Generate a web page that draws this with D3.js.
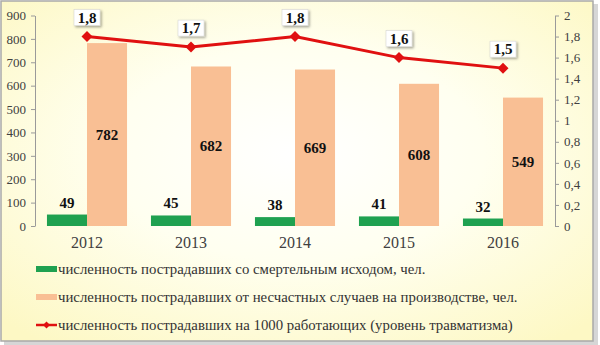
<!DOCTYPE html>
<html>
<head>
<meta charset="utf-8">
<script src="https://cdn.jsdelivr.net/npm/d3@7"></script>
<style>
  html, body { margin: 0; padding: 0; background: #ffffff; }
  svg { display: block; }
</style>
</head>
<body>
<svg id="chart" width="600" height="345"></svg>
<script>
// Injury statistics by year
const years = ["2012", "2013", "2014", "2015", "2016"];
const fatal = [49, 45, 38, 41, 32];
const injured = [782, 682, 669, 608, 549];
const ratePer1000 = [1.8, 1.7, 1.8, 1.6, 1.5];
const leftTicks = [0, 100, 200, 300, 400, 500, 600, 700, 800, 900];
const rightTicks = [0, 0.2, 0.4, 0.6, 0.8, 1, 1.2, 1.4, 1.6, 1.8, 2];
const legendLabels = [
  "численность пострадавших со смертельным исходом, чел.",
  "численность пострадавших от несчастных случаев на производстве, чел.",
  "численность пострадавших на 1000 работающих (уровень травматизма)"
];

const green = "#1fa150";
const orange = "#f9bf94";
const red = "#e01010";
const serif = "'Liberation Serif', 'Times New Roman', serif";

const svg = d3.select("#chart");
const defs = svg.append("defs");

// panel background: pale yellow with a lighter centre
const bg = defs.append("radialGradient").attr("id", "bg")
  .attr("cx", "50%").attr("cy", "45%").attr("r", "70%");
bg.append("stop").attr("offset", "0%").attr("stop-color", "#ffffff");
bg.append("stop").attr("offset", "45%").attr("stop-color", "#fffff0");
bg.append("stop").attr("offset", "100%").attr("stop-color", "#fdf8c4");

const shadow = defs.append("filter").attr("id", "boxShadow")
  .attr("x", "-30%").attr("y", "-30%").attr("width", "170%").attr("height", "170%");
shadow.append("feDropShadow").attr("dx", 1.5).attr("dy", 1.5)
  .attr("stdDeviation", 1.2).attr("flood-color", "#000").attr("flood-opacity", 0.35);

// frame shadow + frame
svg.append("rect").attr("x", 4).attr("y", 4).attr("width", 594).attr("height", 341)
  .attr("fill", "#d6d6d6");
svg.append("rect").attr("x", 1).attr("y", 1).attr("width", 592).attr("height", 340)
  .attr("fill", "url(#bg)").attr("stroke", "#a9a9a9").attr("stroke-width", 1.5);

const plotLeft = 35, plotRight = 555, plotTop = 15.5, plotBottom = 226;

const x = d3.scaleBand().domain(years).range([plotLeft, plotRight])
  .paddingInner(0.23).paddingOuter(0.115);
const x1 = d3.scaleBand().domain(["fatal", "injured"]).range([0, x.bandwidth()]);
const y = d3.scaleLinear().domain([0, 900]).range([plotBottom, plotTop]);
const y2 = d3.scaleLinear().domain([0, 2]).range([plotBottom, plotTop]);

const fmtComma = d => String(d).replace(".", ",");

// left axis
const axL = svg.append("g").attr("transform", `translate(${plotLeft},0)`)
  .call(d3.axisLeft(y).tickValues(leftTicks).tickSizeInner(4).tickSizeOuter(0).tickPadding(5));
// right axis
const axR = svg.append("g").attr("transform", `translate(${plotRight},0)`)
  .call(d3.axisRight(y2).tickValues(rightTicks).tickFormat(fmtComma)
    .tickSizeInner(4).tickSizeOuter(0).tickPadding(5));
[axL, axR].forEach(g => {
  g.select(".domain").attr("stroke", "#9a9a9a");
  g.selectAll(".tick line").attr("stroke", "#9a9a9a");
  g.selectAll(".tick text").attr("fill", "#404040")
    .style("font-family", serif).style("font-size", "13px");
});

// category labels
svg.append("g").selectAll("text").data(years).join("text")
  .attr("x", d => x(d) + x.bandwidth() / 2)
  .attr("y", 248)
  .attr("text-anchor", "middle")
  .attr("fill", "#404040")
  .style("font-family", serif).style("font-size", "16px")
  .text(d => d);

// bars
const groups = svg.append("g").selectAll("g").data(years).join("g")
  .attr("transform", d => `translate(${x(d)},0)`);

groups.append("rect")
  .attr("x", x1("fatal")).attr("width", x1.bandwidth())
  .attr("y", (d, i) => y(fatal[i]))
  .attr("height", (d, i) => y(0) - y(fatal[i]))
  .attr("fill", green);

groups.append("rect")
  .attr("x", x1("injured")).attr("width", x1.bandwidth())
  .attr("y", (d, i) => y(injured[i]))
  .attr("height", (d, i) => y(0) - y(injured[i]))
  .attr("fill", orange);

// bar value labels
groups.append("text")
  .attr("x", x1("fatal") + x1.bandwidth() / 2)
  .attr("y", (d, i) => y(fatal[i]) - 7)
  .attr("text-anchor", "middle")
  .attr("fill", "#111")
  .style("font-family", serif).style("font-size", "15px").style("font-weight", "bold")
  .text((d, i) => fatal[i]);

groups.append("text")
  .attr("x", x1("injured") + x1.bandwidth() / 2)
  .attr("y", (d, i) => (y(injured[i]) + y(0)) / 2 + 5)
  .attr("text-anchor", "middle")
  .attr("fill", "#111")
  .style("font-family", serif).style("font-size", "15px").style("font-weight", "bold")
  .text((d, i) => injured[i]);

// rate line
const cx = d => x(d) + x.bandwidth() / 2;
const line = d3.line().x((d, i) => cx(years[i])).y(d => y2(d));
svg.append("path").datum(ratePer1000)
  .attr("d", line)
  .attr("fill", "none").attr("stroke", red).attr("stroke-width", 3);

const diamond = (px, py, r) => `M${px},${py - r}L${px + r},${py}L${px},${py + r}L${px - r},${py}Z`;
svg.append("g").selectAll("path").data(ratePer1000).join("path")
  .attr("d", (d, i) => diamond(cx(years[i]), y2(d), 5.5))
  .attr("fill", red);

// rate labels in boxes
const rateLabels = svg.append("g").selectAll("g").data(ratePer1000).join("g")
  .attr("transform", (d, i) => `translate(${cx(years[i])},${y2(d) - 19})`);
rateLabels.append("rect")
  .attr("x", -13).attr("y", -8).attr("width", 26).attr("height", 16)
  .attr("fill", "#ffffff").attr("stroke", "#d0d0d0").attr("stroke-width", 0.5)
  .attr("filter", "url(#boxShadow)");
rateLabels.append("text")
  .attr("y", 5)
  .attr("text-anchor", "middle")
  .attr("fill", "#111")
  .style("font-family", serif).style("font-size", "15px").style("font-weight", "bold")
  .text(d => fmtComma(d));

// legend
const legendY = [269, 297, 325];
const legend = svg.append("g");
legend.append("rect").attr("x", 36).attr("y", legendY[0] - 3).attr("width", 21).attr("height", 6).attr("fill", green);
legend.append("rect").attr("x", 36).attr("y", legendY[1] - 3).attr("width", 21).attr("height", 6).attr("fill", orange);
legend.append("line").attr("x1", 36).attr("x2", 57).attr("y1", legendY[2]).attr("y2", legendY[2])
  .attr("stroke", red).attr("stroke-width", 2.5);
legend.append("path").attr("d", diamond(46.5, legendY[2], 3.5)).attr("fill", red);
legend.selectAll("text").data(legendLabels).join("text")
  .attr("x", 58).attr("y", (d, i) => legendY[i] + 4.5)
  .attr("fill", "#333")
  .style("font-family", serif).style("font-size", "14.8px")
  .text(d => d);
</script>
</body>
</html>
